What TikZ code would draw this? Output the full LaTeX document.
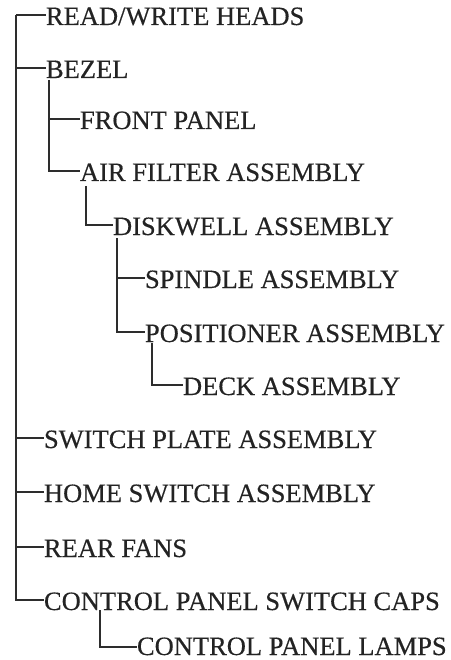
\documentclass[tikz,border=0pt]{standalone}
\usepackage{fontspec}
\setmainfont{Liberation Serif}
\newfontfamily\inkfont[FakeBold=0.4]{Liberation Serif}
\definecolor{ink}{RGB}{35,35,35}
\definecolor{wire}{RGB}{45,45,45}
\begin{document}
\begin{tikzpicture}[x=1pt,y=-1pt,
  item/.style={anchor=base west,inner sep=0pt,outer sep=0pt,text=ink,
    font=\inkfont\fontsize{26.5}{30}\selectfont},
  wirestyle/.style={draw=wire,line width=2.2pt,line cap=butt,line join=miter}]
\useasboundingbox (0,0) rectangle (450,660);
\coordinate (root) at (16,15);
% nodes (base at connector y + 10)
\node[item] (rw)    at (46,25)  {READ/WRITE HEADS};
\node[item] (bezel) at (46,78)  {BEZEL};
\node[item] (front) at (80,129) {FRONT PANEL};
\node[item] (air)   at (80,181) {AIR FILTER ASSEMBLY};
\node[item] (disk)  at (113,235) {DISKWELL ASSEMBLY};
\node[item] (spin)  at (145,288) {SPINDLE ASSEMBLY};
\node[item] (pos)   at (145,342) {POSITIONER ASSEMBLY};
\node[item] (deck)  at (183,395) {DECK ASSEMBLY};
\node[item] (plate) at (44,448) {SWITCH PLATE ASSEMBLY};
\node[item] (home)  at (44,502) {HOME SWITCH ASSEMBLY};
\node[item] (fans)  at (44,557) {REAR FANS};
\node[item] (caps)  at (44,610) {CONTROL PANEL SWITCH CAPS};
\node[item] (lamps) at (137,655) {CONTROL PANEL LAMPS};
% connectors
\begin{scope}[wirestyle]
\draw (root) |- ([yshift=10pt]rw.base west);
\draw (root) |- ([yshift=10pt]bezel.base west);
\draw (root) |- ([yshift=10pt]plate.base west);
\draw (root) |- ([yshift=10pt]home.base west);
\draw (root) |- ([yshift=10pt]fans.base west);
\draw (root) |- ([yshift=10pt]caps.base west);
\draw ([xshift=3pt,yshift=-2pt]bezel.base west) |- ([yshift=10pt]front.base west);
\draw ([xshift=3pt,yshift=-2pt]bezel.base west) |- ([yshift=10pt]air.base west);
\draw ([xshift=6pt,yshift=-5pt]air.base west) |- ([yshift=10pt]disk.base west);
\draw ([xshift=4pt,yshift=-3pt]disk.base west) |- ([yshift=10pt]spin.base west);
\draw ([xshift=4pt,yshift=-3pt]disk.base west) |- ([yshift=10pt]pos.base west);
\draw ([xshift=7pt,yshift=-1pt]pos.base west) |- ([yshift=10pt]deck.base west);
\draw ([xshift=56pt,yshift=0pt]caps.base west) |- ([yshift=8pt]lamps.base west);
\end{scope}
\end{tikzpicture}
\end{document}
